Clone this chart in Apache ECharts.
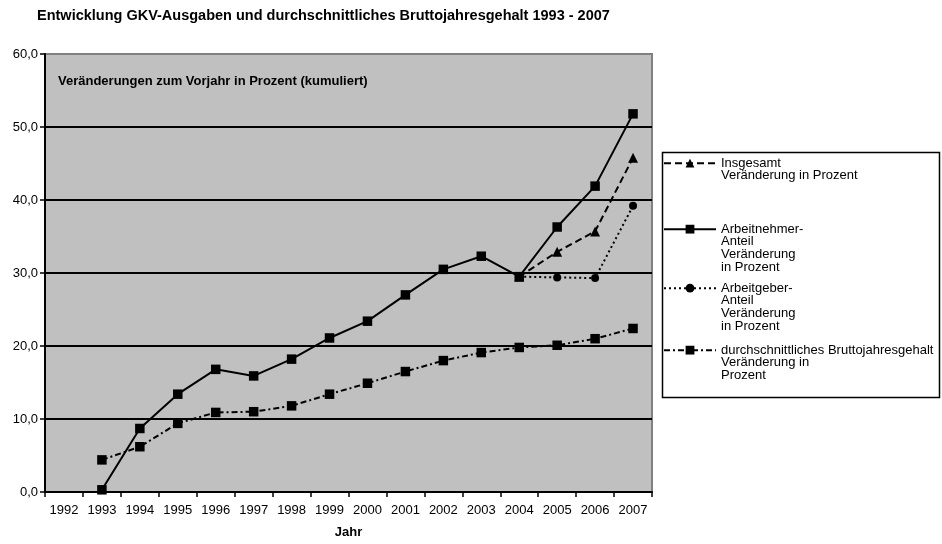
<!DOCTYPE html>
<html>
<head>
<meta charset="utf-8">
<script src="https://cdn.jsdelivr.net/npm/echarts@6/dist/echarts.min.js"></script>
<style>
html,body{margin:0;padding:0;background:#fff;}
#chart{width:942px;height:544px;}
</style>
</head>
<body>
<div id="chart"></div>
<script>
// Categories (years)
const years = ['1992','1993','1994','1995','1996','1997','1998','1999','2000','2001','2002','2003','2004','2005','2006','2007'];
// Series values (cumulated change in percent)
const insgesamt      = [null,null,null,null,null,null,null,null,null,null,null,null,29.5,32.9,35.7,45.8];
const arbeitnehmer   = [null,0.3,8.7,13.4,16.8,15.9,18.2,21.1,23.4,27.0,30.5,32.3,29.5,36.3,41.9,51.8];
const arbeitgeber    = [null,null,null,null,null,null,null,null,null,null,null,null,29.5,29.4,29.3,39.2];
const brutto         = [null,4.4,6.2,9.4,10.9,11.0,11.8,13.4,14.9,16.5,18.0,19.1,19.8,20.1,21.0,22.4];
// Labels
const seriesNames = [
  'Insgesamt\nVeränderung in Prozent',
  'Arbeitnehmer-\nAnteil\nVeränderung\nin Prozent',
  'Arbeitgeber-\nAnteil\nVeränderung\nin Prozent',
  'durchschnittliches Bruttojahresgehalt\nVeränderung in\nProzent'
];
const titleText = 'Entwicklung GKV-Ausgaben und durchschnittliches Bruttojahresgehalt 1993 - 2007';
const subText = 'Veränderungen zum Vorjahr in Prozent (kumuliert)';
const xName = 'Jahr';

const FONT = '"Liberation Sans", Arial, sans-serif';
const LH = 12.7;
const legendFirstLineY = [163, 229, 288, 350];

function legendFor(i) {
  const n = seriesNames[i].split('\n').length;
  return {
    data: [seriesNames[i]],
    orient: 'vertical',
    left: 663,
    top: legendFirstLineY[i] - (2 * n - 1) * LH / 2,
    padding: 0,
    itemWidth: 52,
    itemHeight: 11,
    selectedMode: false,
    // leading blank lines so the first text line sits level with the icon
    formatter: name => '\n'.repeat(n - 1) + name,
    textStyle: { fontFamily: FONT, fontSize: 13, color: '#000', lineHeight: LH }
  };
}

const chart = echarts.init(document.getElementById('chart'));
chart.setOption({
  animation: false,
  backgroundColor: '#fff',
  title: [{
    text: titleText,
    left: 37, top: 8, padding: 0,
    textStyle: { fontFamily: FONT, fontSize: 14.5, fontWeight: 'bold', color: '#000' }
  }, {
    text: subText,
    left: 58, top: 75, padding: 0,
    textStyle: { fontFamily: FONT, fontSize: 13, fontWeight: 'bold', color: '#000' }
  }],
  grid: {
    left: 45, right: 290, top: 54, bottom: 45,
    show: true, backgroundColor: '#c0c0c0', borderColor: '#808080', borderWidth: 2
  },
  legend: [legendFor(0), legendFor(1), legendFor(2), legendFor(3)],
  graphic: [{
    type: 'rect', z: -1,
    shape: { x: 662.5, y: 152.5, width: 277, height: 245 },
    style: { fill: '#fff', stroke: '#000', lineWidth: 1.5 }
  }],
  xAxis: {
    type: 'category',
    data: years,
    boundaryGap: true,
    name: xName,
    nameLocation: 'middle',
    nameGap: 34,
    nameTextStyle: { fontFamily: FONT, fontSize: 13, fontWeight: 'bold', color: '#000' },
    axisLine: { lineStyle: { color: '#000', width: 2 } },
    axisTick: { show: true, interval: 0, length: 5, lineStyle: { color: '#000', width: 1.5 } },
    axisLabel: { interval: 0, margin: 12, fontFamily: FONT, fontSize: 13, color: '#000' },
    splitLine: { show: false }
  },
  yAxis: {
    type: 'value',
    min: 0, max: 60, interval: 10,
    axisLine: { show: true, lineStyle: { color: '#000', width: 2 } },
    axisTick: { show: true, length: 5, lineStyle: { color: '#000', width: 1.5 } },
    axisLabel: {
      margin: 7, fontFamily: FONT, fontSize: 13, color: '#000',
      formatter: v => v.toFixed(1).replace('.', ',')
    },
    splitLine: { show: true, showMaxLine: false, lineStyle: { color: '#000', width: 2 } }
  },
  series: [{
    name: seriesNames[0], type: 'line', data: insgesamt,
    symbol: 'triangle', symbolSize: 10, showAllSymbol: true,
    lineStyle: { color: '#000', width: 2, type: [7, 4] },
    itemStyle: { color: '#000' }
  }, {
    name: seriesNames[1], type: 'line', data: arbeitnehmer,
    symbol: 'rect', symbolSize: 9.5, showAllSymbol: true,
    lineStyle: { color: '#000', width: 2, type: 'solid' },
    itemStyle: { color: '#000' }
  }, {
    name: seriesNames[2], type: 'line', data: arbeitgeber,
    symbol: 'circle', symbolSize: 8, showAllSymbol: true,
    lineStyle: { color: '#000', width: 2, type: [2, 3] },
    itemStyle: { color: '#000' }
  }, {
    name: seriesNames[3], type: 'line', data: brutto,
    symbol: 'rect', symbolSize: 9.5, showAllSymbol: true,
    lineStyle: { color: '#000', width: 2, type: [6, 3, 2, 3] },
    itemStyle: { color: '#000' }
  }]
});
</script>
</body>
</html>
